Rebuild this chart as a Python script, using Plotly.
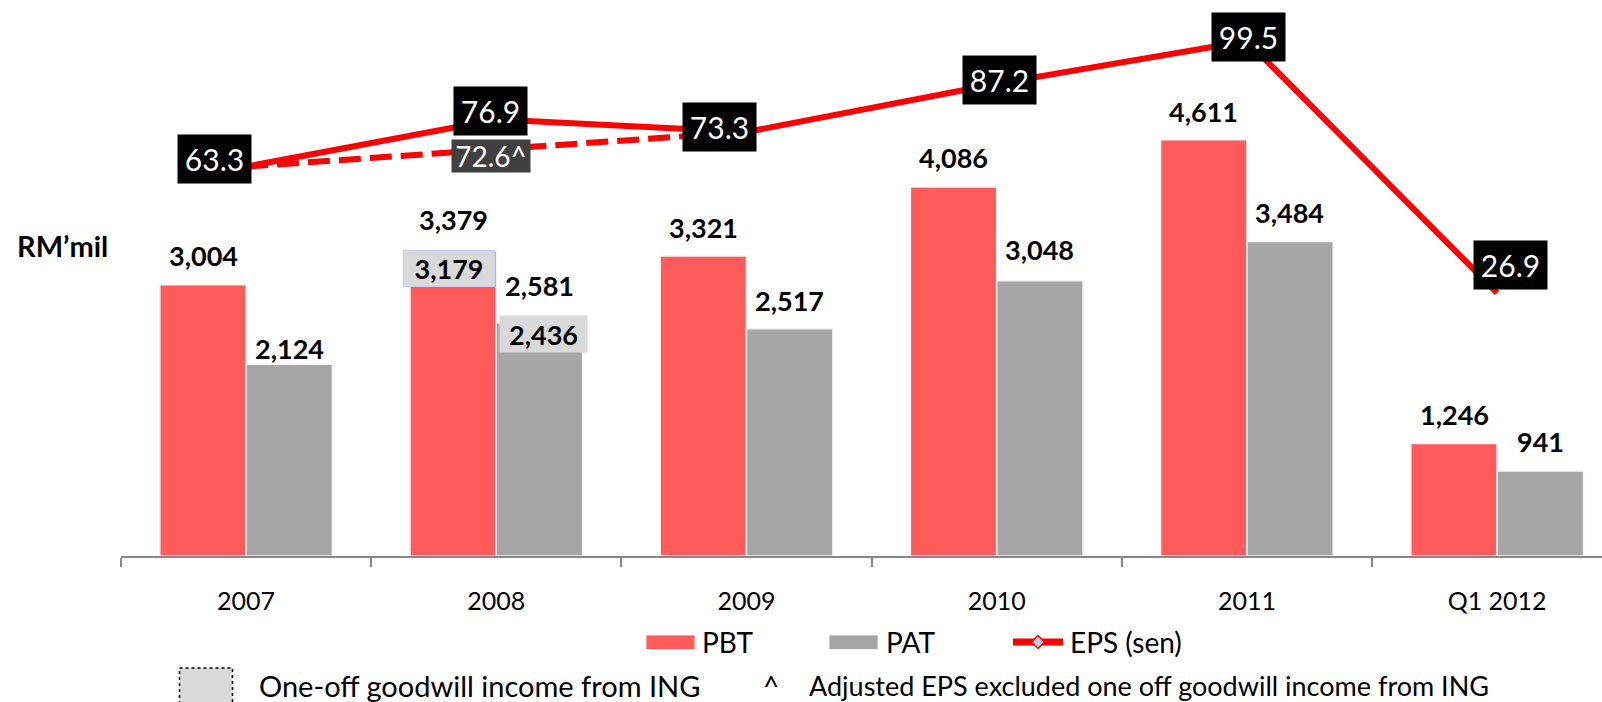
import plotly.graph_objects as go

# ---------------- data ----------------
categories = ["2007", "2008", "2009", "2010", "2011", "Q1 2012"]
pbt = [3004, 3379, 3321, 4086, 4611, 1246]          # RM'mil
pat = [2124, 2581, 2517, 3048, 3484, 941]           # RM'mil
eps = [63.3, 76.9, 73.3, 87.2, 99.5, 26.9]          # sen
adj_eps_cats = ["2007", "2009"]
adj_eps_vals = [63.3, 73.3]
adj_eps_2008 = 72.6
pbt_ex_goodwill_2008 = 3179
pat_ex_goodwill_2008 = 2436

# ---------------- style ----------------
W, H = 1602, 702
ML, MB = 121, 146
PW, PH = W - ML, H - MB          # plot area in px
FONT = "Lato"
PBT_C = "#FF5B5B"
PAT_C = "#A6A6A6"
RED = "#FF0000"

def px(x):
    return (x - ML) / PW

def py(y):
    return (PH - y) / PH

# label offsets (pixels) for EPS boxes
eps_dx = [-32, -6, -27, 3, 2, 13]
eps_dy = [8, 8, 5, 4, 4, 28]
pbt_dy = [29, 31, 29, 30, 28, 29]
pat_dy = [16, 37, 28, 31, 29, 30]
BAR_HALF = 43
i2008 = categories.index("2008")

fig = go.Figure()
fig.add_trace(go.Bar(x=categories, y=pbt, name="PBT",
                     marker=dict(color=PBT_C, line=dict(color="#F4F4F4", width=1.5))))
fig.add_trace(go.Bar(x=categories, y=pat, name="PAT",
                     marker=dict(color=PAT_C, line=dict(color="#F4F4F4", width=1.5))))
fig.add_trace(go.Scatter(x=adj_eps_cats, y=adj_eps_vals, yaxis="y2", mode="lines",
                         line=dict(color=RED, width=6, dash="22px,9px"), cliponaxis=False))
fig.add_trace(go.Scatter(x=categories, y=eps, yaxis="y2", mode="lines", name="EPS (sen)",
                         line=dict(color=RED, width=6), cliponaxis=False))

ann = []
BAR_FONT = dict(family=FONT, size=27, color="black")
# bar value labels (x given as category index)
for i, c in enumerate(categories):
    ann.append(dict(x=i, y=pbt[i], xref="x", yref="y", text=f"<b>{pbt[i]:,}</b>",
                    showarrow=False, xshift=-BAR_HALF, yshift=pbt_dy[i], yanchor="middle",
                    font=BAR_FONT))
    ann.append(dict(x=i, y=pat[i], xref="x", yref="y", text=f"<b>{pat[i]:,}</b>",
                    showarrow=False, xshift=BAR_HALF, yshift=pat_dy[i], yanchor="middle",
                    font=BAR_FONT))

# one-off goodwill boxes in 2008
ann.append(dict(x=i2008, y=pbt[i2008], xref="x", yref="y", text=f"<b>{pbt_ex_goodwill_2008:,}</b>",
                showarrow=False, xshift=-47, yshift=-18, yanchor="middle",
                bgcolor="#D9D9D9", bordercolor="#C8C8F4", borderwidth=1, borderpad=2,
                width=86, height=31, font=BAR_FONT))
ann.append(dict(x=i2008, y=pat[i2008], xref="x", yref="y", text=f"<b>{pat_ex_goodwill_2008:,}</b>",
                showarrow=False, xshift=47, yshift=-11, yanchor="middle",
                bgcolor="#D9D9D9", borderpad=2, width=83, height=32, font=BAR_FONT))

# EPS labels
for i, c in enumerate(categories):
    ann.append(dict(x=i, y=eps[i], xref="x", yref="y2", text=f"{eps[i]:.1f}",
                    showarrow=False, xshift=eps_dx[i], yshift=eps_dy[i],
                    bgcolor="black", borderpad=5, width=63, height=38,
                    font=dict(family=FONT, size=30, color="white")))
# adjusted EPS label
ann.append(dict(x=i2008, y=sum(adj_eps_vals) / 2, xref="x", yref="y2",
                text=f"{adj_eps_2008:.1f}^", showarrow=False, xshift=-5, yshift=-7,
                bgcolor="#404040", borderpad=1, width=76, height=30,
                font=dict(family=FONT, size=28, color="white")))

# y-axis unit label
ann.append(dict(x=px(15), y=py(245), xref="paper", yref="paper", text="<b>RM’mil</b>",
                showarrow=False, xanchor="left", yanchor="middle",
                font=dict(family=FONT, size=29, color="black")))

# manual legend
shapes = []
LEG_Y = 642
shapes.append(dict(type="rect", xref="paper", yref="paper", x0=px(646), x1=px(695),
                   y0=py(635), y1=py(649.5), fillcolor=PBT_C, line=dict(color="#F0F0F0", width=1)))
shapes.append(dict(type="rect", xref="paper", yref="paper", x0=px(829), x1=px(878),
                   y0=py(635), y1=py(649.5), fillcolor=PAT_C, line=dict(color="#F0F0F0", width=1)))
shapes.append(dict(type="line", xref="paper", yref="paper", x0=px(1013), x1=px(1063),
                   y0=py(LEG_Y), y1=py(LEG_Y), line=dict(color=RED, width=7)))
dx, dyp = 6.5, 6.5
shapes.append(dict(type="path", xref="paper", yref="paper",
                   path=(f"M {px(1038 - dx)} {py(LEG_Y)} L {px(1038)} {py(LEG_Y - dyp)} "
                         f"L {px(1038 + dx)} {py(LEG_Y)} L {px(1038)} {py(LEG_Y + dyp)} Z"),
                   fillcolor="#B9CDE5", line=dict(color=RED, width=1.5)))
for xt, t in [(700, "PBT"), (884, "PAT"), (1068, "EPS (sen)")]:
    ann.append(dict(x=px(xt), y=py(LEG_Y), xref="paper", yref="paper", text=t,
                    showarrow=False, xanchor="left", yanchor="middle",
                    font=dict(family=FONT, size=28, color="black")))

# footnote
shapes.append(dict(type="rect", xref="paper", yref="paper", x0=px(179.5), x1=px(232.5),
                   y0=py(668), y1=py(705), fillcolor="#D9D9D9",
                   line=dict(color="black", width=1.5, dash="dot")))
FOOT_Y = 686
for xt, t, fs in [(257, "One-off goodwill income from ING", 29), (761, "^", 28),
                  (807, "Adjusted EPS excluded one off goodwill income from ING", 27)]:
    ann.append(dict(x=px(xt), y=py(FOOT_Y), xref="paper", yref="paper", text=t,
                    showarrow=False, xanchor="left", yanchor="middle",
                    font=dict(family=FONT, size=fs, color="black")))

fig.update_layout(
    width=W, height=H,
    margin=dict(l=ML, r=0, t=0, b=MB, pad=0),
    paper_bgcolor="white", plot_bgcolor="white",
    barmode="group", bargap=0.31, bargroupgap=0,
    showlegend=False,
    font=dict(family=FONT, color="black"),
    xaxis=dict(type="category", range=[-0.5, -0.5 + PW / 250.2],
               showline=True, linecolor="#878787", linewidth=1.5,
               ticks="outside", ticklen=9, tickwidth=1.5, tickcolor="#878787",
               tickson="boundaries", showgrid=False, zeroline=False,
               tickfont=dict(family=FONT, size=25, color="black"),
               ticklabelstandoff=22),
    yaxis=dict(range=[0, PH / 0.0903], visible=False, showgrid=False, zeroline=False),
    yaxis2=dict(range=[-(PH - 386.3) / 3.47, 386.3 / 3.47], overlaying="y", side="right",
                visible=False, showgrid=False, zeroline=False),
    annotations=ann, shapes=shapes,
)

fig.write_html("out.html", config={"displayModeBar": False},
               post_script="document.body.style.margin='0';document.body.style.overflow='hidden';")
